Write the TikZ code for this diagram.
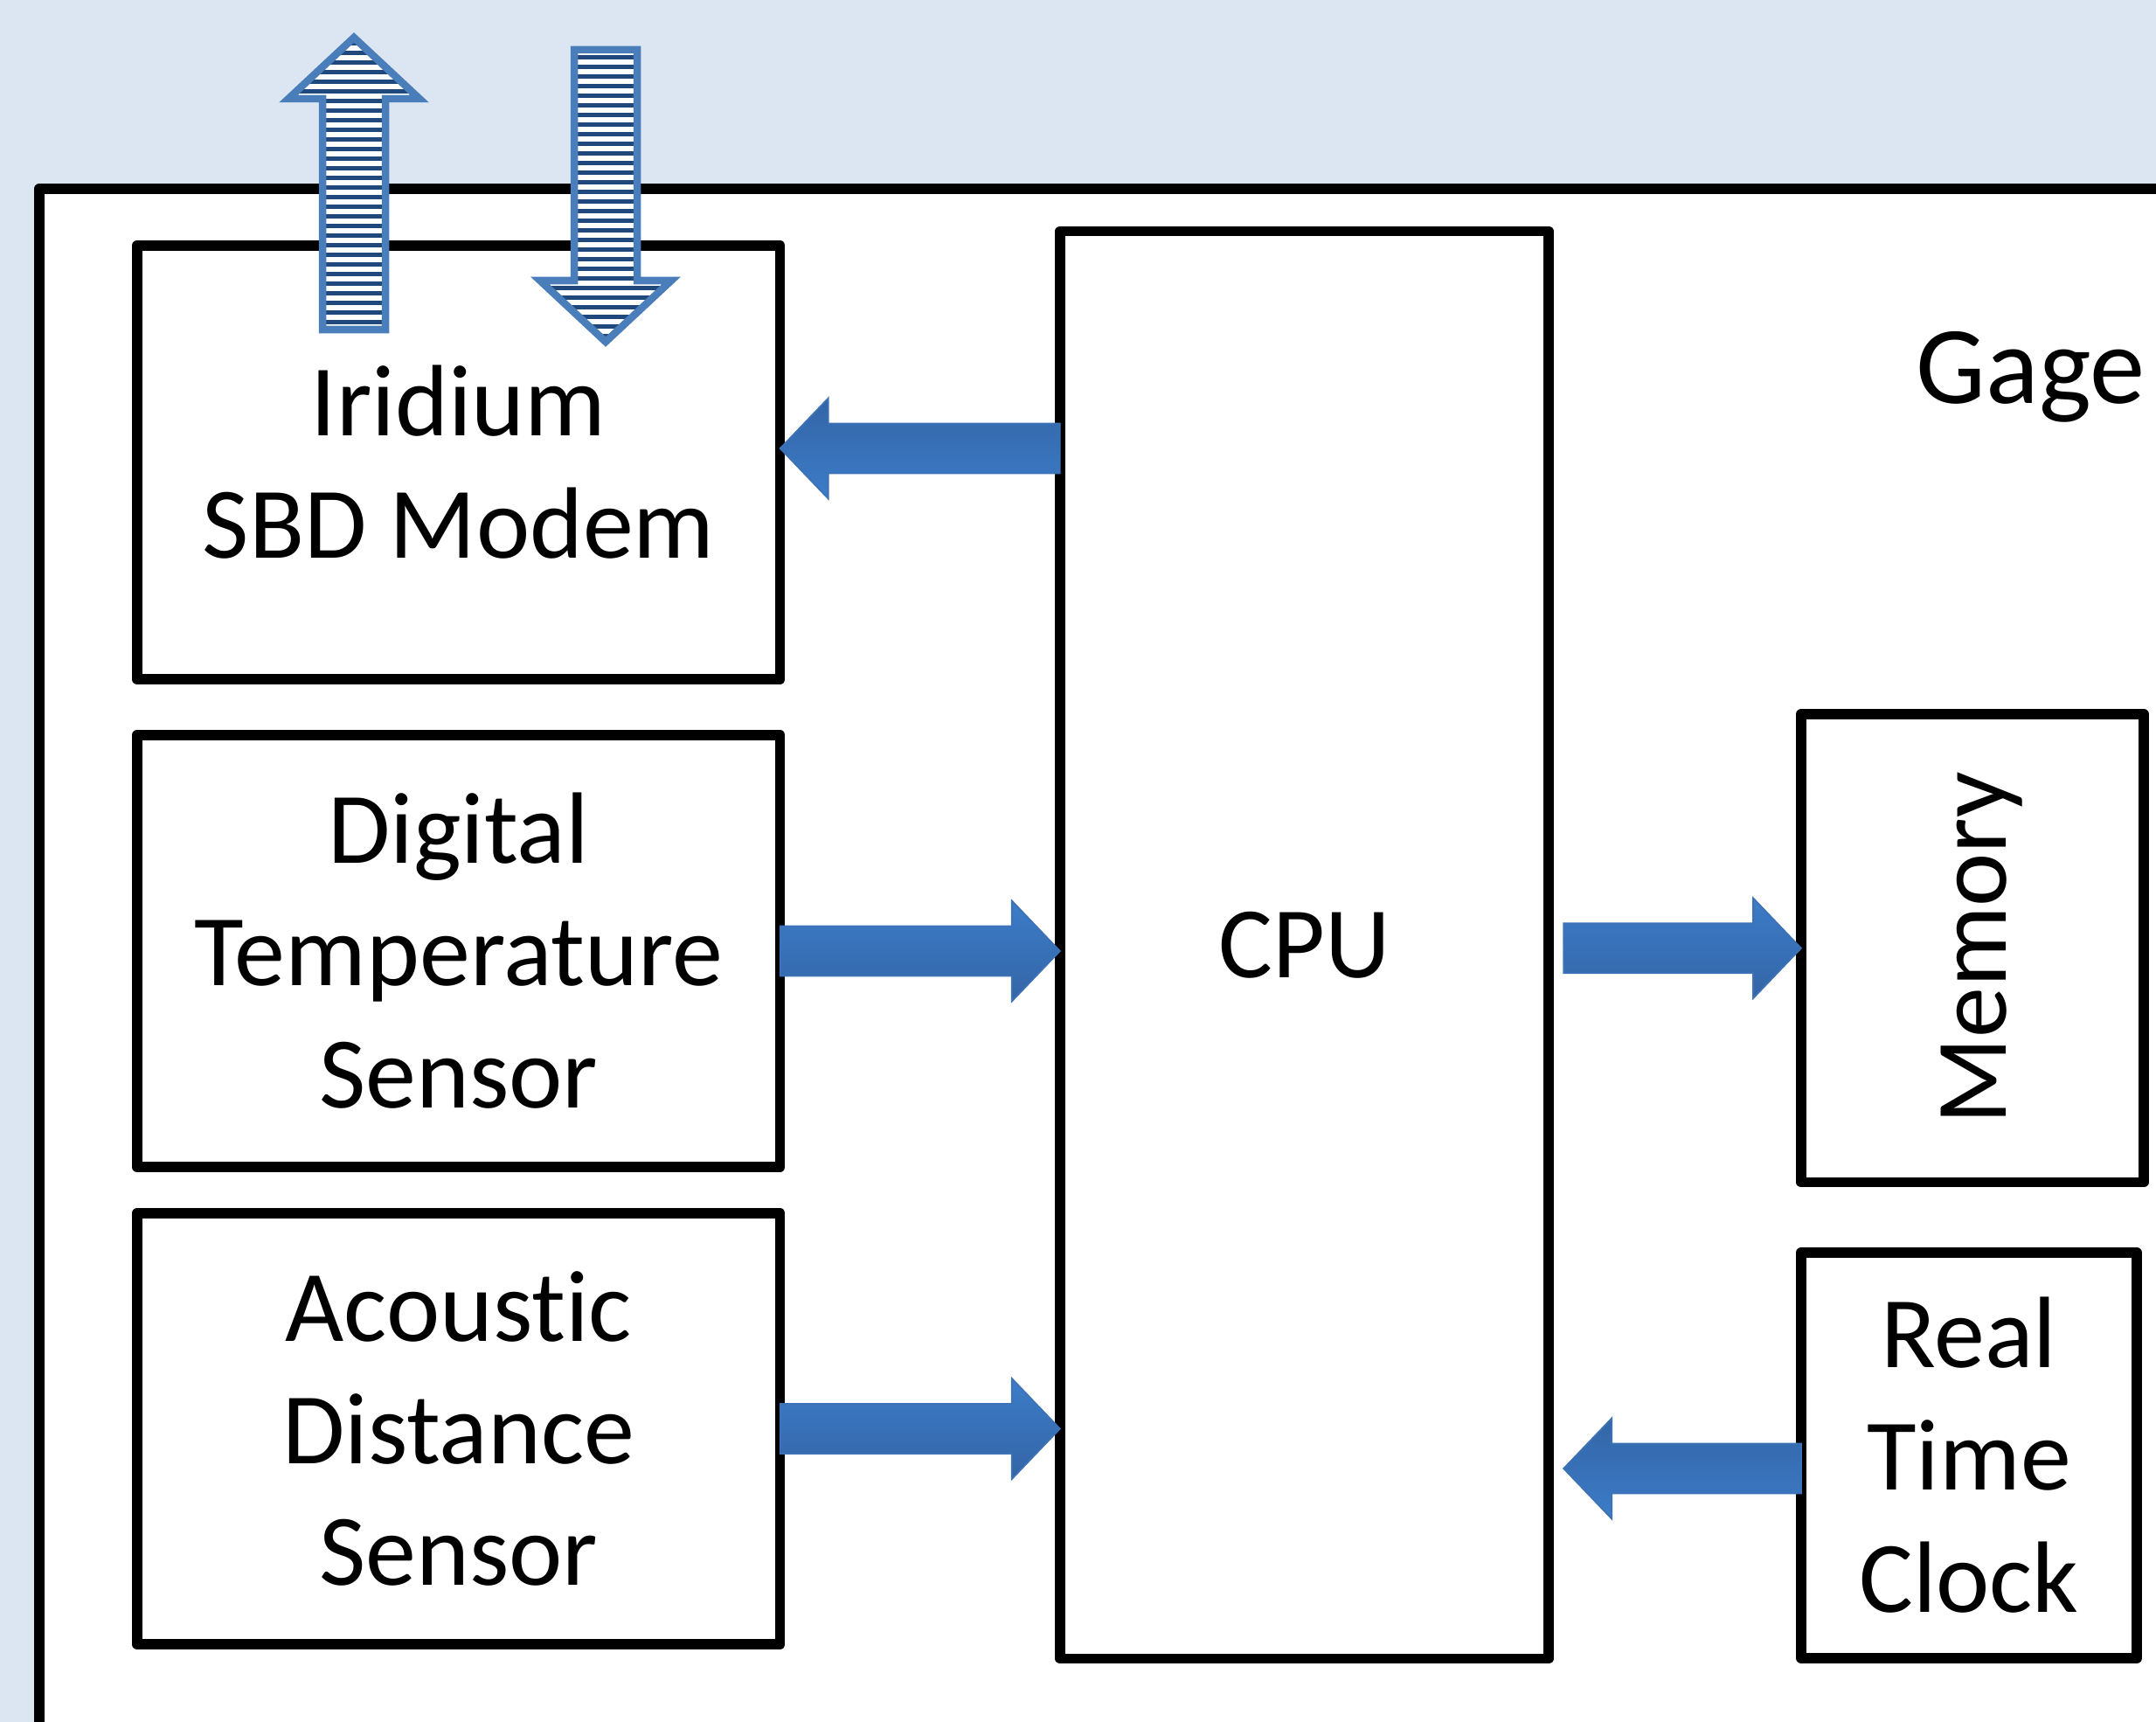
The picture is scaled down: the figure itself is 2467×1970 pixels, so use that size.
\documentclass[tikz,border=0pt]{standalone}
\usepackage{fontspec}
\setmainfont[Ligatures=NoCommon]{Carlito}
\usepackage{graphicx}
\usetikzlibrary{calc}

\definecolor{pagebg}{HTML}{DCE6F2}
\definecolor{flowlight}{RGB}{60,124,200}
\definecolor{flowdark}{RGB}{51,101,166}
\definecolor{flowedge}{RGB}{62,114,182}
\definecolor{stripeedge}{RGB}{74,126,187}
\definecolor{stripedark}{HTML}{1F497D}

\tikzset{
  unitbox/.style={draw=black, line width=0.115cm, fill=white, line join=round,
    outer sep=0pt, inner sep=0pt, align=center,
    font=\fontsize{33}{39.8}\selectfont},
  flowright/.style={top color=flowlight, bottom color=flowdark, draw=flowedge, line width=0.5pt},
  flowleft/.style={top color=flowdark, bottom color=flowlight, draw=flowedge, line width=0.5pt},
  stripeline/.style={draw=stripeedge, line width=0.085cm, line join=miter},
}

% thick block arrow from #2 (tail) to #3 (tip); #4 = 1 points right, -1 points left
\newcommand\blockflow[4]{%
  \path[#1] let \p1=(#2), \p2=(#3) in
    ({\x1},{\y1+0.285cm}) -- ({\x2-(#4)*0.55cm},{\y1+0.285cm}) -- ({\x2-(#4)*0.55cm},{\y1+0.575cm})
    -- ({\x2},{\y1}) -- ({\x2-(#4)*0.55cm},{\y1-0.575cm}) -- ({\x2-(#4)*0.55cm},{\y1-0.285cm})
    -- ({\x1},{\y1-0.285cm}) -- cycle;
}

\begin{document}
\begin{tikzpicture}[x=0.01cm, y=-0.01cm]
  \useasboundingbox (0,0) rectangle (2467,1970);
  \clip (0,0) rectangle (2467,1970);
  \fill[pagebg] (0,0) rectangle (2467,1970);

  % enclosure of the gage
  \node[unitbox, minimum width=25.545cm, minimum height=18.835cm] (gage) at (1322.75,1158.25) {};
  \node[font=\fontsize{36}{40}\selectfont, anchor=base west, inner sep=0pt] (gagelabel) at (2192,462) {Gage};

  % units
  \node[unitbox, minimum width=7.355cm, minimum height=4.96cm] (modem) at (524.75,529) {Iridium\\SBD Modem};
  \node[unitbox, minimum width=7.355cm, minimum height=4.94cm] (temp) at (524.75,1088) {Digital\\Temperature\\Sensor};
  \node[unitbox, minimum width=7.355cm, minimum height=4.93cm] (sonar) at (524.75,1634.5) {Acoustic\\Distance\\Sensor};
  \node[unitbox, minimum width=5.59cm, minimum height=16.32cm] (cpu) at (1492.5,1081) {CPU};
  \node[unitbox, minimum width=3.92cm, minimum height=5.355cm] (memory) at (2257,1084.75) {\hspace*{0.22cm}\rotatebox{90}{Memory}};
  \node[unitbox, minimum width=3.84cm, minimum height=4.64cm] (rtc) at (2253,1665) {Real\\Time\\Clock};

  % satellite uplink (up) and downlink (down)
  \begin{scope}
    \clip (405,43) -- (480,113) -- (441,113) -- (441,377) -- (369,377) -- (369,113) -- (330,113) -- cycle;
    \fill[white] (300,20) rectangle (520,400);
    \foreach \k in {0,...,33} \fill[stripedark] (300,{47+11*\k}) rectangle (520,{52+11*\k});
  \end{scope}
  \draw[stripeline] (405,43) -- (480,113) -- (441,113) -- (441,377) -- (369,377) -- (369,113) -- (330,113) -- cycle;

  \begin{scope}
    \clip (657,57) -- (729,57) -- (729,321) -- (768,321) -- (693,391) -- (618,321) -- (657,321) -- cycle;
    \fill[white] (600,40) rectangle (790,400);
    \foreach \k in {0,...,33} \fill[stripedark] (600,{63+11*\k}) rectangle (790,{68+11*\k});
  \end{scope}
  \draw[stripeline] (657,57) -- (729,57) -- (729,321) -- (768,321) -- (693,391) -- (618,321) -- (657,321) -- cycle;

  % data flow between the units
  \coordinate (modemin) at ($(modem.east)+(0,-16)$);
  \coordinate (cpuout) at (cpu.west |- modemin);
  \coordinate (tempin) at (cpu.west |- temp.east);
  \coordinate (sonarin) at (cpu.west |- sonar.east);
  \coordinate (memout) at ($(cpu.east |- memory.west)+(17,0)$);
  \coordinate (rtcout) at ($(rtc.west)+(0,15)$);
  \coordinate (rtcin) at ($(cpu.east |- rtcout)+(17,0)$);

  \blockflow{flowleft}{cpuout}{modemin}{-1}
  \blockflow{flowright}{temp.east}{tempin}{1}
  \blockflow{flowright}{sonar.east}{sonarin}{1}
  \blockflow{flowright}{memout}{memory.west}{1}
  \blockflow{flowleft}{rtcout}{rtcin}{-1}
\end{tikzpicture}
\end{document}
